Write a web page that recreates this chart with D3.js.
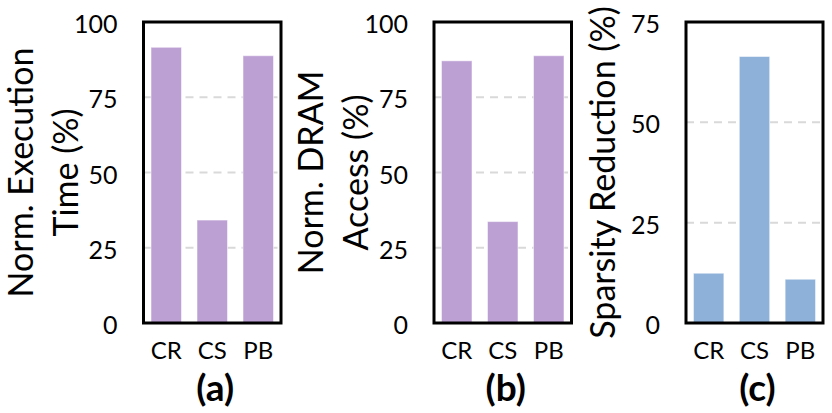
<!DOCTYPE html>
<html>
<head>
<meta charset="utf-8">
<script src="https://cdn.jsdelivr.net/npm/d3@7"></script>
<style>
  body { margin: 0; background: #fff; }
  text { font-family: Lato, "Open Sans", sans-serif; fill: #000; }
</style>
</head>
<body>
<div id="chart"></div>
<script>
// data
const categories = ['CR', 'CS', 'PB'];
const execTime = [91.6, 34.2, 88.8];
const dramAccess = [87.1, 33.7, 88.8];
const sparsityReduction = [12.4, 66.4, 10.9];
const ticks100 = [0, 25, 50, 75, 100];
const ticks75 = [0, 25, 50, 75];

const width = 832, height = 413;
const plotTop = 22, plotBottom = 323;

const svg = d3.select('#chart')
    .append('svg')
    .attr('width', width)
    .attr('height', height);

const panels = [
    {x0: 143.5, x1: 281, values: execTime, max: 100, ticks: ticks100,
     title: ['Norm. Execution', 'Time (%)'], label: '(a)', color: '#bca0d4'},
    {x0: 434, x1: 571.5, values: dramAccess, max: 100, ticks: ticks100,
     title: ['Norm. DRAM', 'Access (%)'], label: '(b)', color: '#bca0d4'},
    {x0: 686, x1: 823, values: sparsityReduction, max: 75, ticks: ticks75,
     title: ['Sparsity Reduction (%)'], label: '(c)', color: '#8eb1da'}
];

panels.forEach(p => {
    const x = d3.scaleBand()
        .domain(categories)
        .range([p.x0, p.x1])
        .paddingInner(0.337)
        .paddingOuter(0.163);

    const y = d3.scaleLinear()
        .domain([0, p.max])
        .range([plotBottom, plotTop]);

    const g = svg.append('g');

    // dashed grid lines
    g.selectAll('.grid')
        .data(p.ticks.filter(t => t > 0))
        .enter().append('line')
        .attr('class', 'grid')
        .attr('x1', p.x0)
        .attr('x2', p.x1)
        .attr('y1', d => y(d))
        .attr('y2', d => y(d))
        .attr('stroke', '#d9d9d9')
        .attr('stroke-width', 2)
        .attr('stroke-dasharray', '8,6');

    // bars
    g.selectAll('.bar')
        .data(p.values)
        .enter().append('rect')
        .attr('class', 'bar')
        .attr('x', (d, i) => x(categories[i]))
        .attr('width', x.bandwidth())
        .attr('y', d => y(d))
        .attr('height', d => y(0) - y(d))
        .attr('fill', p.color)
        .attr('stroke', '#ffffff')
        .attr('stroke-opacity', 0.5)
        .attr('stroke-width', 1);

    // frame
    g.append('rect')
        .attr('x', p.x0)
        .attr('y', plotTop)
        .attr('width', p.x1 - p.x0)
        .attr('height', plotBottom - plotTop)
        .attr('fill', 'none')
        .attr('stroke', '#000')
        .attr('stroke-width', 3);

    // y axis labels
    const yAxis = d3.axisLeft(y)
        .tickValues(p.ticks)
        .tickSize(0)
        .tickPadding(26);
    const ya = g.append('g')
        .attr('transform', 'translate(' + p.x0 + ',0)')
        .call(yAxis);
    ya.select('.domain').remove();
    ya.selectAll('text')
        .attr('font-size', 25)
        .attr('dy', '0.42em')
        .style('font-family', 'Lato, sans-serif');

    // x axis labels
    const xAxis = d3.axisBottom(x).tickSize(0).tickPadding(19);
    const xa = g.append('g')
        .attr('transform', 'translate(0,' + plotBottom + ')')
        .call(xAxis);
    xa.select('.domain').remove();
    xa.selectAll('text')
        .attr('font-size', 24)
        .style('font-family', 'Lato, sans-serif');

    // axis title, rotated
    const cy = (plotTop + plotBottom) / 2;
    const offsets = p.title.length === 2 ? [111, 66] : [71];
    p.title.forEach((t, i) => {
        g.append('text')
            .attr('transform', 'translate(' + (p.x0 - offsets[i]) + ',' + cy + ') rotate(-90)')
            .attr('text-anchor', 'middle')
            .attr('font-size', 34)
            .text(t);
    });

    // sub-figure label
    g.append('text')
        .attr('x', (p.x0 + p.x1) / 2 + 3)
        .attr('y', 401)
        .attr('text-anchor', 'middle')
        .attr('font-size', 37)
        .attr('font-weight', 'bold')
        .text(p.label);
});
</script>
</body>
</html>
